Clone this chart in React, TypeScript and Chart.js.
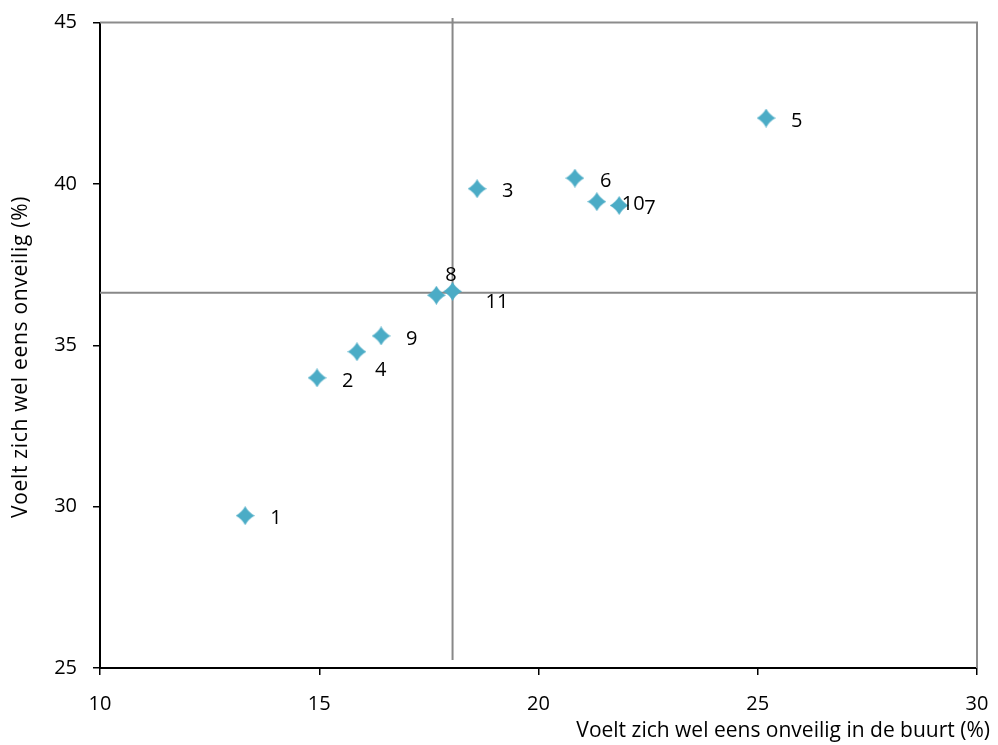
import React, { useEffect, useRef } from "react";
import { Chart, registerables } from "chart.js";

Chart.register(...registerables);

// ---- data ----
const pointLabels = ["1", "2", "3", "4", "5", "6", "7", "8", "9", "10", "11"];
const xValues = [13.31, 14.95, 18.6, 15.86, 25.19, 20.83, 21.84, 17.67, 16.41, 21.33, 18.04];
const yValues = [29.72, 33.99, 39.85, 34.8, 42.04, 40.18, 39.33, 36.55, 35.29, 39.45, 36.67];
const avgX = 18.04;
const avgY = 36.63;
const refLineTop = 45.14;
const refLineBottom = 25.25;
const xTicks = [10, 15, 20, 25, 30];
const yTicks = [25, 30, 35, 40, 45];
const xTitle = "Voelt zich wel eens onveilig in de buurt (%)";
const yTitle = "Voelt zich wel eens onveilig (%)";

// ---- style ----
const FONT = "'Open Sans', 'Liberation Sans', sans-serif";
const MARKER_COLOR = "#4bacc6";
const defaultOffset: [number, number] = [25, 3];
const labelOffsets: Record<string, [number, number]> = {
  "4": [18, 19],
  "8": [9, -20],
  "11": [33, 11],
};

function makeMarker(): HTMLCanvasElement {
  const s = 19;
  const c = document.createElement("canvas");
  c.width = s;
  c.height = s;
  const g = c.getContext("2d")!;
  const h = s / 2;
  const k = 3.3;
  g.fillStyle = MARKER_COLOR;
  g.beginPath();
  g.moveTo(h, 0);
  g.quadraticCurveTo(h + k, h - k, s, h);
  g.quadraticCurveTo(h + k, h + k, h, s);
  g.quadraticCurveTo(h - k, h + k, 0, h);
  g.quadraticCurveTo(h - k, h - k, h, 0);
  g.closePath();
  g.fill();
  return c;
}

const overlayPlugin = {
  id: "overlay",
  beforeDatasetsDraw(chart: any) {
    const { ctx, chartArea: a, scales } = chart;
    const x = scales.x;
    const y = scales.y;
    ctx.save();
    ctx.strokeStyle = "#8c8c8c";
    ctx.lineWidth = 2;
    ctx.beginPath();
    ctx.moveTo(a.left, a.top);
    ctx.lineTo(a.right, a.top);
    ctx.lineTo(a.right, a.bottom);
    ctx.stroke();

    ctx.strokeStyle = "#888888";
    ctx.lineWidth = 2;
    const vx = x.getPixelForValue(avgX);
    ctx.beginPath();
    ctx.moveTo(vx, y.getPixelForValue(refLineTop));
    ctx.lineTo(vx, y.getPixelForValue(refLineBottom));
    ctx.stroke();
    const hy = y.getPixelForValue(avgY);
    ctx.beginPath();
    ctx.moveTo(x.getPixelForValue(xTicks[0]), hy);
    ctx.lineTo(x.getPixelForValue(xTicks[xTicks.length - 1]), hy);
    ctx.stroke();
    ctx.restore();
  },
  afterDatasetsDraw(chart: any) {
    const { ctx } = chart;
    const meta = chart.getDatasetMeta(0);
    ctx.save();
    ctx.fillStyle = "#000";
    ctx.font = `20px ${FONT}`;
    ctx.textAlign = "left";
    ctx.textBaseline = "middle";
    meta.data.forEach((el: any, i: number) => {
      const lbl = pointLabels[i];
      const [dx, dy] = labelOffsets[lbl] || defaultOffset;
      ctx.fillText(lbl, el.x + dx, el.y + dy);
    });
    ctx.restore();
  },
  afterDraw(chart: any) {
    const { ctx } = chart;
    ctx.save();
    ctx.fillStyle = "#000";
    ctx.font = `21px ${FONT}`;
    ctx.textBaseline = "middle";
    ctx.textAlign = "right";
    ctx.fillText(xTitle, chart.width - 8, 731);
    ctx.translate(21, 357);
    ctx.rotate(-Math.PI / 2);
    ctx.textAlign = "center";
    try {
      (ctx as any).letterSpacing = "0.7px";
    } catch (e) {}
    ctx.fillText(yTitle, 0, 0);
    ctx.restore();
  },
};

export default function App() {
  const ref = useRef<HTMLCanvasElement | null>(null);
  useEffect(() => {
    if (!ref.current) return;
    const marker = makeMarker();
    const chart = new Chart(ref.current, {
      type: "scatter",
      data: {
        datasets: [
          {
            data: xValues.map((v, i) => ({ x: v, y: yValues[i] })),
            pointStyle: marker as any,
            pointRadius: 9,
            backgroundColor: MARKER_COLOR,
            borderColor: MARKER_COLOR,
          },
        ],
      },
      options: {
        animation: false,
        responsive: false,
        events: [],
        layout: { padding: { top: 22.5, right: 21, left: 0, bottom: 0 } },
        plugins: { legend: { display: false }, tooltip: { enabled: false } },
        scales: {
          x: {
            type: "linear",
            min: xTicks[0],
            max: xTicks[xTicks.length - 1],
            afterBuildTicks: (s: any) => {
              s.ticks = xTicks.map((v) => ({ value: v }));
            },
            afterFit: (s: any) => {
              s.height = 77;
              s.paddingLeft = 0;
              s.paddingRight = 0;
            },
            ticks: { color: "#000", font: { family: FONT, size: 20 }, padding: 17, maxRotation: 0 },
            grid: { display: true, drawOnChartArea: false, drawTicks: true, tickLength: 7, color: "#000", lineWidth: 1.5 },
            border: { display: true, color: "#000", width: 2 },
          },
          y: {
            type: "linear",
            min: yTicks[0],
            max: yTicks[yTicks.length - 1],
            afterBuildTicks: (s: any) => {
              s.ticks = yTicks.map((v) => ({ value: v }));
            },
            afterFit: (s: any) => {
              s.width = 100;
              s.paddingTop = 0;
              s.paddingBottom = 0;
            },
            ticks: { color: "#000", font: { family: FONT, size: 20 }, padding: 16 },
            grid: { display: true, drawOnChartArea: false, drawTicks: true, tickLength: 7, color: "#000", lineWidth: 1.5 },
            border: { display: true, color: "#000", width: 2 },
          },
        },
      },
      plugins: [overlayPlugin],
    });
    return () => chart.destroy();
  }, []);
  return (
    <div style={{ position: "absolute", left: 0, top: 0, width: 998, height: 745, background: "#fff" }}>
      <canvas ref={ref} width={998} height={745} style={{ display: "block", width: 998, height: 745 }} />
    </div>
  );
}
